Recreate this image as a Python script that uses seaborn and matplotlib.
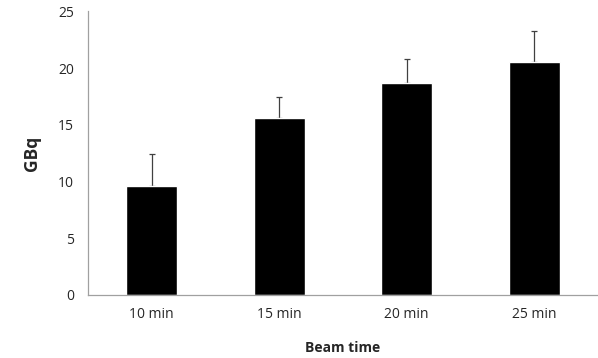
import numpy as np
import pandas as pd
import seaborn as sb
import matplotlib.pyplot as plt
from matplotlib.ticker import FixedLocator

# values
beam_time = ["10 min", "15 min", "20 min", "25 min"]
activity = [9.6, 15.6, 18.7, 20.5]
sd = [2.8, 1.9, 2.1, 2.8]

data = pd.DataFrame({"Beam time": beam_time, "GBq": activity})

sb.set_style("white")
plt.rcParams["font.family"] = ["Open Sans", "DejaVu Sans"]

fig = plt.figure(figsize=(5.98, 3.58), dpi=100)
ax = fig.add_axes([0.147, 0.176, 0.853, 0.792])

sb.barplot(data=data, x="Beam time", y="GBq", color="black", width=0.4,
           saturation=1, errorbar=None, ax=ax, zorder=2)

# upper error bars only, lower cap hidden behind the bar
x = np.arange(len(beam_time))
ax.errorbar(x, activity, yerr=[np.zeros(len(sd)), sd], fmt="none",
            ecolor="#404040", elinewidth=0.9, capsize=2, capthick=0.9, zorder=1)

ax.set_ylim(0, 25)
ax.set_yticks(range(0, 26, 5))
ax.set_xlim(-0.5, len(beam_time) - 0.5)

# ticks sit between categories, like the source
ax.xaxis.set_minor_locator(FixedLocator(np.arange(0.5, len(beam_time) - 0.5, 1)))
ax.tick_params(axis="x", which="major", length=0, labelsize=10, pad=9)
ax.tick_params(axis="x", which="minor", length=4, direction="out", color="#a0a0a0", width=0.8)
ax.tick_params(axis="y", length=4, direction="out", color="#a0a0a0", width=0.8, labelsize=10, pad=6)

for side in ["top", "right"]:
    ax.spines[side].set_visible(False)
for side in ["left", "bottom"]:
    ax.spines[side].set_color("#a0a0a0")
    ax.spines[side].set_linewidth(0.9)

ax.set_xlabel("Beam time", fontsize=10, fontweight="bold", labelpad=13)
ax.set_ylabel("GBq", fontsize=12.5, fontweight="bold", labelpad=12)

fig.savefig("out.png", dpi=100)
plt.close()
